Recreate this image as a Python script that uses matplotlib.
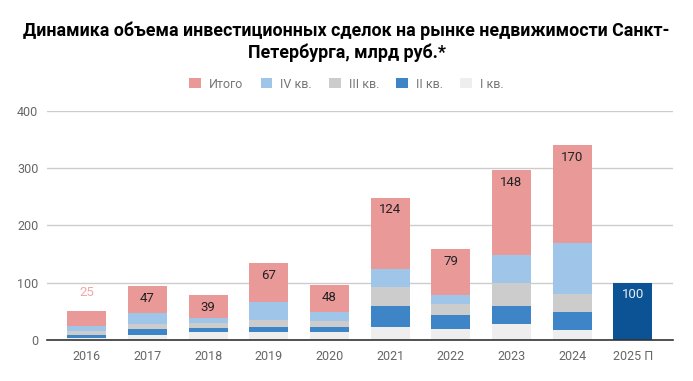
import matplotlib
matplotlib.use("Agg")
import matplotlib.pyplot as plt
import numpy as np

plt.rcParams['font.family'] = ['Roboto', 'DejaVu Sans']

years = ["2016", "2017", "2018", "2019", "2020", "2021", "2022", "2023", "2024"]
q1 = [4, 9, 14, 14, 14, 23, 19, 28, 17]
q2 = [5, 10, 7, 9, 9, 37, 24, 31, 32]
q3 = [6, 9, 9, 12, 10, 33, 20, 40, 31]
q4 = [10, 19, 9, 32, 15, 31, 16, 49, 90]
totals = [25, 47, 39, 67, 48, 124, 79, 148, 170]
forecast_label = "2025 П"
forecast_value = 100

labels = ["I кв.", "II кв.", "III кв.", "IV кв.", "Итого"]
colors = ["#eeeeee", "#3d85c6", "#cccccc", "#9fc5e8", "#ea9999"]
forecast_color = "#0b5394"

fig = plt.figure(figsize=(6.93, 3.81), dpi=100)
ax = fig.add_axes([0.0674, 0.1076, 0.9036, 0.6018])

x = np.arange(len(years))
w = 0.64
bottom = np.zeros(len(years))
handles = []
for vals, lab, col in zip([q1, q2, q3, q4], labels[:4], colors[:4]):
    h = ax.bar(x, vals, w, bottom=bottom, color=col, label=lab, zorder=3)
    handles.append(h)
    bottom += np.array(vals)
h = ax.bar(x, totals, w, bottom=bottom, color=colors[4], label=labels[4], zorder=3)
handles.append(h)
ax.bar([len(years)], [forecast_value], w, color=forecast_color, zorder=3)

for xi, b, t in zip(x, bottom, totals):
    if t < 30:
        ax.text(xi, b + t + 33, str(t), ha='center', va='center', fontsize=9.5, color="#f4a6a6", zorder=4)
    else:
        ax.text(xi, b + t - 21, str(t), ha='center', va='center', fontsize=9.5, color="#222222", zorder=4)
ax.text(len(years), forecast_value - 21, str(forecast_value), ha='center', va='center', fontsize=9.5, color="#e8eef5", zorder=4)

ax.set_xlim(-0.66, len(years) + 0.66)
ax.set_ylim(0, 400)
ax.set_yticks([0, 100, 200, 300, 400])
ax.set_xticks(list(x) + [len(years)])
ax.set_xticklabels(years + [forecast_label])
ax.tick_params(axis='both', length=0, labelsize=9, labelcolor="#666666")
ax.tick_params(axis='x', pad=7)
ax.tick_params(axis='y', pad=6)
ax.grid(axis='y', color="#cccccc", linewidth=1, zorder=0)
for s in ['top', 'right', 'left']:
    ax.spines[s].set_visible(False)
ax.spines['bottom'].set_color("#333333")
ax.spines['bottom'].set_linewidth(1.2)
ax.spines['bottom'].set_zorder(5)

fig.text(0.5, 1 - 31 / 381, "Динамика объема инвестиционных сделок на рынке недвижимости Санкт-",
         ha='center', va='center', fontsize=12.8, fontweight='bold', color="#000000")
fig.text(0.5, 1 - 53 / 381, "Петербурга, млрд руб.*",
         ha='center', va='center', fontsize=12.8, fontweight='bold', color="#000000")

leg_handles = handles[::-1]
leg_labels = labels[::-1]
fig.legend(leg_handles, leg_labels, loc='center', bbox_to_anchor=(0.5, 1 - 84 / 381), ncol=5,
           frameon=False, fontsize=9, labelcolor="#777777", handlelength=0.95, handleheight=0.9,
           handletextpad=0.64, columnspacing=1.36)

fig.savefig("out.png", dpi=100)
